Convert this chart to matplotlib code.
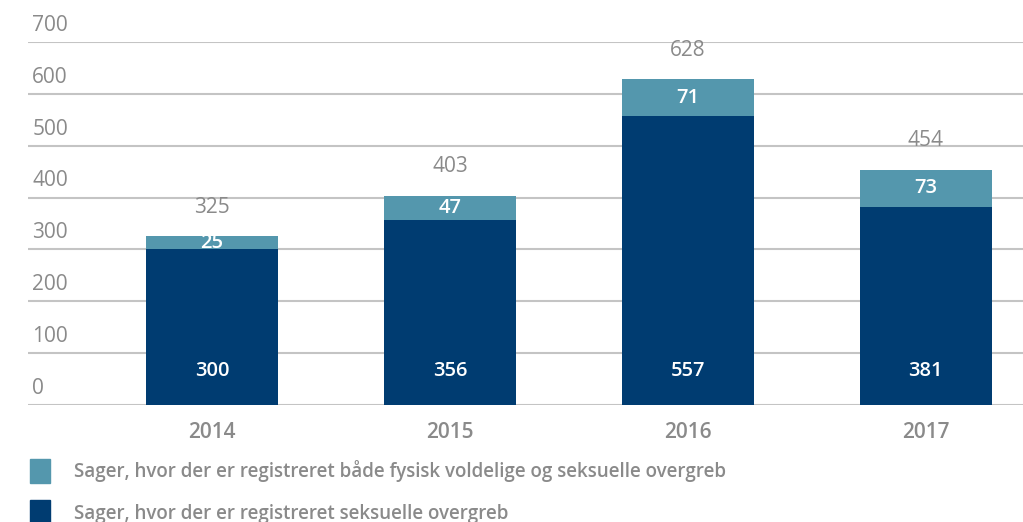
import numpy as np
import matplotlib.pyplot as plt
from matplotlib.patches import Patch
from matplotlib.transforms import offset_copy, blended_transform_factory

plt.rcParams['font.family'] = ['Open Sans', 'DejaVu Sans']

years = ['2014', '2015', '2016', '2017']
seksuelle = [300, 356, 557, 381]
begge = [25, 47, 71, 73]
totals = [325, 403, 628, 454]
yticks = [0, 100, 200, 300, 400, 500, 600, 700]

dark = '#003c71'
light = '#5497ad'
grey = '#8a8a8a'

fig = plt.figure(figsize=(10.23, 5.22), dpi=100)
ax = fig.add_axes([28 / 1023, 117 / 522, 1 - 28 / 1023, 363 / 522])

x = np.arange(len(years))
w = 0.555
ax.bar(x, seksuelle, width=w, color=dark, zorder=3)
ax.bar(x, begge, width=w, bottom=seksuelle, color=light, zorder=3)

for xi, s, b, t in zip(x, seksuelle, begge, totals):
    ax.text(xi, 65, str(s), ha='center', va='center', color='white',
            fontsize=14.5, fontweight='semibold', zorder=4)
    ax.text(xi, s + b / 2, str(b), ha='center', va='center', color='white',
            fontsize=14.5, fontweight='semibold', zorder=4)
    ax.annotate(str(t), (xi, t), xytext=(0, 21), textcoords='offset points',
                ha='center', va='center', color=grey, fontsize=15)

ax.set_xlim(-0.773, 3.408)
ax.set_ylim(0, 700)
ax.set_xticks(x)
ax.set_xticklabels(years, color=grey, fontsize=15, fontweight='semibold')
ax.tick_params(axis='x', length=0, pad=12)
ax.set_yticks(yticks)
ax.set_yticklabels([])
ax.tick_params(axis='y', length=0)
ax.grid(axis='y', color='#c4c4c4', linewidth=1.5, zorder=0)
for sp in ax.spines.values():
    sp.set_visible(False)

trans = offset_copy(blended_transform_factory(ax.transAxes, ax.transData),
                    fig=fig, x=3, y=12, units='points')
for v in yticks:
    ax.text(0.0, v, str(v), transform=trans, ha='left', va='center',
            color=grey, fontsize=15)

handles = [Patch(color=light, label='Sager, hvor der er registreret både fysisk voldelige og seksuelle overgreb'),
           Patch(color=dark, label='Sager, hvor der er registreret seksuelle overgreb')]
leg = fig.legend(handles=handles, loc='upper left', bbox_to_anchor=(22 / 1023, 1 - 451 / 522),
                 frameon=False, fontsize=13.5, handlelength=1.1, handleheight=1.6,
                 labelspacing=0.95, handletextpad=1.25, borderaxespad=0)
for t in leg.get_texts():
    t.set_color(grey)
    t.set_fontweight('semibold')

fig.savefig('out.png', dpi=100)
